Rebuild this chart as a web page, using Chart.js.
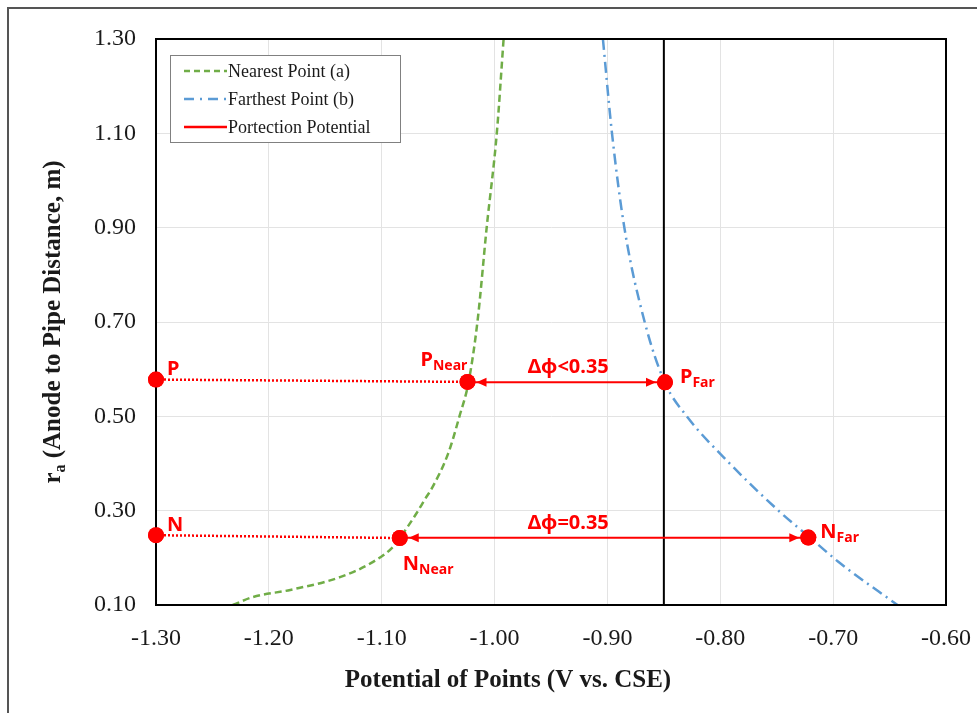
<!DOCTYPE html>
<html>
<head>
<meta charset="utf-8">
<script src="https://cdn.jsdelivr.net/npm/chart.js@4"></script>
<style>
html, body { margin: 0; padding: 0; background: #fff; }
</style>
</head>
<body>
<canvas id="chart" width="977" height="713"></canvas>
<script>
// series (x = potential V vs CSE, y = r_a in m)
const seriesLabels = ['Nearest Point (a)', 'Farthest Point (b)', 'Portection Potential'];

const nearestX = [-1.232, -1.214, -1.181, -1.137, -1.108, -1.090, -1.084, -1.069, -1.062, -1.055, -1.041, -1.031, -1.023, -1.015, -1.007, -0.998, -0.992];
const nearestY = [0.100, 0.117, 0.132, 0.159, 0.191, 0.223, 0.242, 0.295, 0.323, 0.350, 0.422, 0.501, 0.573, 0.704, 0.900, 1.101, 1.300];

const farthestX = [-0.904, -0.896, -0.885, -0.867, -0.849, -0.830, -0.792, -0.747, -0.721, -0.694, -0.643];
const farthestY = [1.300, 1.101, 0.900, 0.700, 0.571, 0.501, 0.401, 0.297, 0.244, 0.189, 0.100];

const protectionX = [-0.85, -0.85];
const protectionY = [0.10, 1.30];

// marked points
const markerNames = ['P', 'N', 'P', 'N', 'P', 'N'];
const markerSubs = ['', '', 'Near', 'Near', 'Far', 'Far'];
const markerX = [-1.30, -1.30, -1.024, -1.084, -0.849, -0.722];
const markerY = [0.578, 0.248, 0.573, 0.242, 0.572, 0.243];

// dotted guides: marker index pairs, and arrows between markers
const guidePairs = [[0, 2], [1, 3]];
const arrowPairs = [[2, 4], [3, 5]];
const arrowLabels = ['Δϕ<0.35', 'Δϕ=0.35'];

const xTitle = 'Potential of Points (V vs. CSE)';
const yTitleMain = 'r';
const yTitleSub = 'a';
const yTitleRest = ' (Anode to Pipe Distance, m)';

const RED = '#ff0000';
const SERIF = '"Liberation Serif", "Times New Roman", serif';
const SANS = '"Noto Sans", "Open Sans", sans-serif';

const toPoints = (xs, ys) => xs.map((x, i) => ({ x: x, y: ys[i] }));

let datasets = [];
datasets.push({
    label: 'markers',
    data: toPoints(markerX, markerY),
    showLine: false,
    pointRadius: 8,
    pointBackgroundColor: RED,
    pointBorderWidth: 0,
    clip: false,
    order: 0
});
datasets.push({
    label: seriesLabels[0],
    data: toPoints(nearestX, nearestY),
    showLine: true,
    borderColor: '#70ad47',
    borderWidth: 2.5,
    borderDash: [7, 4],
    cubicInterpolationMode: 'monotone',
    pointRadius: 0,
    order: 5
});
datasets.push({
    label: seriesLabels[1],
    data: toPoints(farthestX, farthestY),
    showLine: true,
    borderColor: '#5b9bd5',
    borderWidth: 2.5,
    borderDash: [11, 5, 2, 5],
    cubicInterpolationMode: 'monotone',
    pointRadius: 0,
    order: 5
});
datasets.push({
    label: seriesLabels[2],
    data: toPoints(protectionX, protectionY),
    showLine: true,
    borderColor: '#000',
    borderWidth: 2,
    pointRadius: 0,
    order: 4
});
for (let i = 0; i < guidePairs.length; i++) {
    let a = guidePairs[i][0], b = guidePairs[i][1];
    datasets.push({
        label: 'guide',
        data: [{ x: markerX[a], y: markerY[a] }, { x: markerX[b], y: markerY[b] }],
        showLine: true,
        borderColor: RED,
        borderWidth: 2.5,
        borderDash: [2, 2],
        pointRadius: 0,
        order: 2
    });
}
for (let i = 0; i < arrowPairs.length; i++) {
    let a = arrowPairs[i][0], b = arrowPairs[i][1];
    let y = (markerY[a] + markerY[b]) / 2;
    datasets.push({
        label: 'arrow',
        data: [{ x: markerX[a], y: y }, { x: markerX[b], y: y }],
        showLine: true,
        borderColor: RED,
        borderWidth: 2,
        pointRadius: 0,
        order: 2
    });
}

const drawSubLabel = (ctx, main, sub, x, y, mainSize, subSize) => {
    ctx.font = 'bold ' + mainSize + 'px ' + SANS;
    ctx.textAlign = 'left';
    ctx.textBaseline = 'alphabetic';
    ctx.fillText(main, x, y);
    let w = ctx.measureText(main).width;
    if (sub) {
        ctx.font = 'bold ' + subSize + 'px ' + SANS;
        ctx.fillText(sub, x + w, y + 4);
    }
};

const decorPlugin = {
    id: 'decor',
    beforeDraw(chart) {
        const ctx = chart.ctx;
        ctx.save();
        ctx.fillStyle = '#fff';
        ctx.fillRect(0, 0, chart.width, chart.height);
        ctx.strokeStyle = '#555';
        ctx.lineWidth = 2;
        ctx.beginPath();
        ctx.moveTo(8, chart.height + 5);
        ctx.lineTo(8, 8);
        ctx.lineTo(chart.width + 5, 8);
        ctx.stroke();
        ctx.restore();
    },
    afterDatasetsDraw(chart) {
        const ctx = chart.ctx;
        const xs = chart.scales.x, ys = chart.scales.y;
        const area = chart.chartArea;
        ctx.save();

        // plot frame
        ctx.strokeStyle = '#000';
        ctx.lineWidth = 2;
        ctx.strokeRect(area.left, area.top, area.right - area.left, area.bottom - area.top);

        // markers again so they sit above the frame
        ctx.fillStyle = RED;
        for (let i = 0; i < markerX.length; i++) {
            ctx.beginPath();
            ctx.arc(xs.getPixelForValue(markerX[i]), ys.getPixelForValue(markerY[i]), 8, 0, Math.PI * 2);
            ctx.fill();
        }

        // arrow heads
        for (let i = 0; i < arrowPairs.length; i++) {
            let a = arrowPairs[i][0], b = arrowPairs[i][1];
            let py = ys.getPixelForValue((markerY[a] + markerY[b]) / 2);
            let left = xs.getPixelForValue(markerX[a]) + 9;
            let right = xs.getPixelForValue(markerX[b]) - 9;
            ctx.beginPath();
            ctx.moveTo(left, py);
            ctx.lineTo(left + 10, py - 4.5);
            ctx.lineTo(left + 10, py + 4.5);
            ctx.closePath();
            ctx.fill();
            ctx.beginPath();
            ctx.moveTo(right, py);
            ctx.lineTo(right - 10, py - 4.5);
            ctx.lineTo(right - 10, py + 4.5);
            ctx.closePath();
            ctx.fill();
        }

        // arrow texts, both centred on the first arrow
        let a0 = arrowPairs[0];
        let cx = (xs.getPixelForValue(markerX[a0[0]]) + xs.getPixelForValue(markerX[a0[1]])) / 2 + 2;
        ctx.font = 'bold 20px ' + SANS;
        ctx.textAlign = 'center';
        ctx.textBaseline = 'alphabetic';
        for (let i = 0; i < arrowPairs.length; i++) {
            let a = arrowPairs[i][0], b = arrowPairs[i][1];
            let py = ys.getPixelForValue((markerY[a] + markerY[b]) / 2);
            ctx.fillText(arrowLabels[i], cx, py - 9);
        }

        // point names
        const offsets = [[11, -5], [11, -4], [-47, -16], [3, 32], [15, 1], [12, 0]];
        for (let i = 0; i < markerNames.length; i++) {
            let px = xs.getPixelForValue(markerX[i]);
            let py = ys.getPixelForValue(markerY[i]);
            drawSubLabel(ctx, markerNames[i], markerSubs[i], px + offsets[i][0], py + offsets[i][1], 20, 14);
        }

        // legend
        ctx.fillStyle = '#fff';
        ctx.fillRect(170, 55, 230, 87);
        ctx.strokeStyle = '#808080';
        ctx.lineWidth = 1;
        ctx.strokeRect(170.5, 55.5, 230, 87);
        const legendStyles = [
            { color: '#70ad47', dash: [6, 4] },
            { color: '#5b9bd5', dash: [10, 6, 2, 6] },
            { color: RED, dash: [] }
        ];
        for (let i = 0; i < seriesLabels.length; i++) {
            let ly = 71 + i * 28;
            ctx.strokeStyle = legendStyles[i].color;
            ctx.lineWidth = 2.5;
            ctx.setLineDash(legendStyles[i].dash);
            ctx.beginPath();
            ctx.moveTo(184, ly);
            ctx.lineTo(227, ly);
            ctx.stroke();
            ctx.setLineDash([]);
            ctx.fillStyle = '#1a1a1a';
            ctx.font = '18px ' + SERIF;
            ctx.textAlign = 'left';
            ctx.textBaseline = 'middle';
            ctx.fillText(seriesLabels[i], 228, ly + 1);
        }

        // axis titles
        ctx.fillStyle = '#1a1a1a';
        ctx.font = 'bold 25px ' + SERIF;
        ctx.textAlign = 'center';
        ctx.textBaseline = 'middle';
        ctx.fillText(xTitle, 508, 681);

        ctx.translate(52, 322);
        ctx.rotate(-Math.PI / 2);
        ctx.font = 'bold 25px ' + SERIF;
        let w1 = ctx.measureText(yTitleMain).width;
        let w3 = ctx.measureText(yTitleRest).width;
        ctx.font = 'bold 16px ' + SERIF;
        let w2 = ctx.measureText(yTitleSub).width;
        let start = -(w1 + w2 + w3) / 2;
        ctx.textAlign = 'left';
        ctx.textBaseline = 'alphabetic';
        ctx.font = 'bold 25px ' + SERIF;
        ctx.fillText(yTitleMain, start, 8);
        ctx.font = 'bold 16px ' + SERIF;
        ctx.fillText(yTitleSub, start + w1, 13);
        ctx.font = 'bold 25px ' + SERIF;
        ctx.fillText(yTitleRest, start + w1 + w2, 8);

        ctx.restore();
    }
};

new Chart(document.getElementById('chart'), {
    type: 'scatter',
    data: { datasets: datasets },
    options: {
        responsive: false,
        animation: false,
        layout: { padding: { left: 0, right: 31, top: 39, bottom: 0 } },
        plugins: {
            legend: { display: false },
            tooltip: { enabled: false }
        },
        scales: {
            x: {
                type: 'linear',
                min: -1.30,
                max: -0.60,
                afterFit: (s) => { s.height = 108; s.paddingLeft = 0; s.paddingRight = 0; },
                ticks: {
                    stepSize: 0.1,
                    padding: 19,
                    color: '#1a1a1a',
                    font: { family: SERIF, size: 24 },
                    callback: (v) => v.toFixed(2)
                },
                grid: { color: '#e3e3e3', lineWidth: 1, drawTicks: false },
                border: { color: '#000', width: 2 }
            },
            y: {
                type: 'linear',
                min: 0.10,
                max: 1.30,
                afterFit: (s) => { s.width = 156; s.paddingTop = 0; s.paddingBottom = 0; },
                ticks: {
                    stepSize: 0.2,
                    padding: 20,
                    color: '#1a1a1a',
                    font: { family: SERIF, size: 24 },
                    callback: (v) => v.toFixed(2)
                },
                grid: { color: '#e3e3e3', lineWidth: 1, drawTicks: false },
                border: { color: '#000', width: 2 }
            }
        }
    },
    plugins: [decorPlugin]
});
</script>
</body>
</html>
